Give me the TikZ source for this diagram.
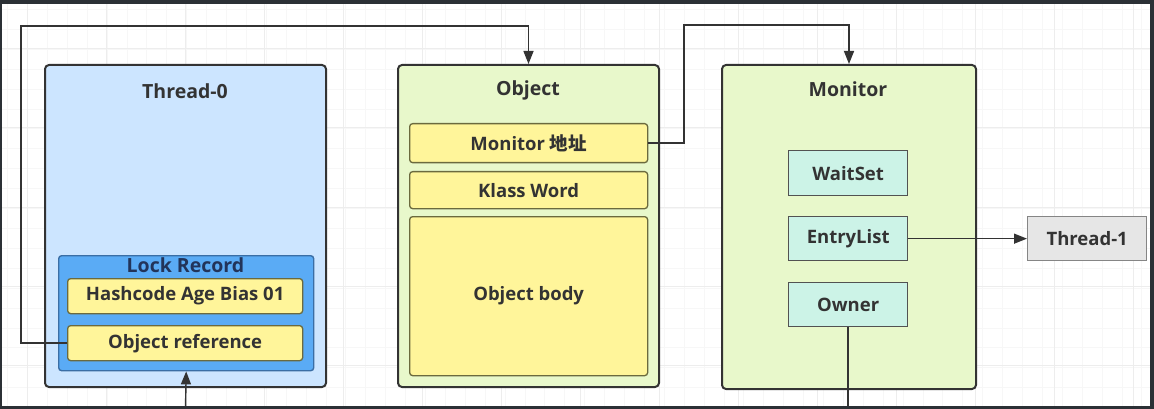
\documentclass[tikz,border=0pt]{standalone}
\usepackage{fontspec}
\setmainfont{Open Sans}
\newfontfamily\cjk{Noto Sans CJK SC}
\usetikzlibrary{arrows.meta}

\definecolor{ink}{HTML}{333333}
\definecolor{frame}{HTML}{2B3035}
\definecolor{threadfill}{HTML}{CCE5FF}
\definecolor{lockfill}{HTML}{5AABF5}
\definecolor{lockline}{HTML}{3A6EA5}
\definecolor{locktext}{HTML}{22345A}
\definecolor{wordfill}{HTML}{FFF59A}
\definecolor{wordline}{HTML}{6B6A3E}
\definecolor{objfill}{HTML}{E8F8CB}
\definecolor{setfill}{HTML}{CCF3E7}
\definecolor{otherfill}{HTML}{E6E6E6}
\definecolor{otherline}{HTML}{858585}

\tikzset{
  panel/.style={draw=ink, line width=2pt, rounded corners=4pt, inner sep=0pt},
  itemfont/.style={font=\fontsize{18.5}{21}\selectfont\bfseries},
  word/.style={draw=wordline, line width=1.3pt, fill=wordfill, rounded corners=3pt,
    inner sep=0pt, text=ink, itemfont},
  queue/.style={draw=ink!85, line width=1.3pt, fill=setfill, inner sep=0pt,
    text=ink, itemfont},
  title/.style={text=ink, font=\fontsize{19.5}{22}\selectfont\bfseries, inner sep=0pt},
  conn/.style={draw=ink, line width=1.4pt},
  tip/.style={-{Triangle[length=13pt,width=10pt]}},
}

% box from its top-left corner and size (pixels)
\newcommand{\boxat}[6][]{%
  \node[#1, minimum width=#4pt, minimum height=#5pt, anchor=north west] (#2) at #3 {#6};}

\begin{document}
\begin{tikzpicture}[x=1pt,y=-1pt]
\useasboundingbox (0,0) rectangle (1154,409);
\fill[white] (0,0) rectangle (1154,409);

% faint drawing grid
\foreach \gx in {7.5,27.4,...,1154} \draw[black!3, line width=0.8pt] (\gx,0) -- (\gx,409);
\foreach \gy in {9.5,29.4,...,409} \draw[black!3, line width=0.8pt] (0,\gy) -- (1154,\gy);
\foreach \gx in {27,106,...,1154} \draw[black!7, line width=1pt] (\gx,0) -- (\gx,409);
\foreach \gy in {49,128,...,409} \draw[black!7, line width=1pt] (0,\gy) -- (1154,\gy);

% Thread-0 with its lock record
\boxat[panel, fill=threadfill]{thread0}{(44,64)}{281}{322}{}
\node[title] (thread0title) at (185,91) {Thread-0};
\boxat[draw=lockline, line width=1.4pt, fill=lockfill, rounded corners=3pt, inner sep=0pt]{lockrec}{(58,255)}{255}{115}{}
\node[title, text=locktext] (locktitle) at (185.5,265) {Lock Record};
\boxat[word]{hashcode}{(67,278)}{235}{35}{Hashcode Age Bias 01}
\boxat[word]{objref}{(67,325)}{235}{35}{Object reference}

% Object header and body
\boxat[panel, fill=objfill]{obj}{(397,64)}{261}{322}{}
\node[title] (objtitle) at (528,90) {Object};
\boxat[word]{monaddr}{(409,123)}{238}{39}{Monitor {\cjk\bfseries 地址}}
\boxat[word]{klass}{(409,171)}{238}{37}{Klass Word}
\boxat[word]{body}{(409,216)}{238}{159}{Object body}

% Monitor
\boxat[panel, fill=objfill]{monitor}{(721,64)}{254}{324}{}
\node[title] (montitle) at (848,89) {Monitor};
\boxat[queue]{waitset}{(788,150)}{119}{45}{WaitSet}
\boxat[queue]{entrylist}{(788,216)}{119}{44}{EntryList}
\boxat[queue]{owner}{(788,282)}{119}{44}{Owner}
\boxat[draw=otherline, line width=1.3pt, fill=otherfill, inner sep=0pt, text=ink,
  itemfont]{thread1}{(1027,216)}{119}{44}{Thread-1}

% connectors
\coordinate (refturn) at (21,26);
\coordinate (addrturn) at (684,25);
\coordinate (ownerout) at (848,409);
\coordinate (lockin) at (185.5,409);
\draw[conn, tip] (objref.west) -| (refturn) -| (obj.north);
\draw[conn, tip] (monaddr.east) -| (addrturn) -| (monitor.north);
\draw[conn, tip] (entrylist.east) -- (thread1.west);
\draw[conn] (owner.south) -- (owner.south |- ownerout);
\draw[conn, tip] (lockin) -- (lockrec.south);

% window edges
\fill[frame] (0,0) rectangle (1154,4);
\fill[frame] (0,406) rectangle (1154,409);
\fill[frame] (1150,0) rectangle (1154,409);
\fill[frame] (0,0) rectangle (1.5,409);
\end{tikzpicture}
\end{document}
